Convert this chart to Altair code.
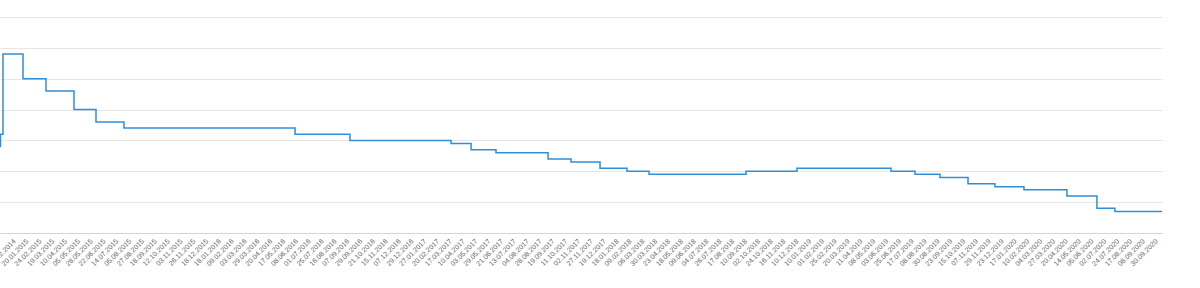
import altair as alt
import pandas as pd

# Tick labels (every 16th working day), left to right
labels = [
    "18.12.2014", "20.01.2015", "24.02.2015", "19.03.2015", "10.04.2015", "05.05.2015",
    "28.05.2015", "22.06.2015", "14.07.2015", "05.08.2015", "27.08.2015", "18.09.2015",
    "12.10.2015", "03.11.2015", "26.11.2015", "18.12.2015", "18.01.2016", "09.02.2016",
    "03.03.2016", "29.03.2016", "20.04.2016", "17.05.2016", "08.06.2016", "01.07.2016",
    "25.07.2016", "16.08.2016", "07.09.2016", "29.09.2016", "21.10.2016", "15.11.2016",
    "07.12.2016", "29.12.2016", "27.01.2017", "20.02.2017", "17.03.2017", "10.04.2017",
    "03.05.2017", "29.05.2017", "21.06.2017", "13.07.2017", "04.08.2017", "28.08.2017",
    "19.09.2017", "11.10.2017", "02.11.2017", "27.11.2017", "19.12.2017", "18.01.2018",
    "09.02.2018", "06.03.2018", "30.03.2018", "23.04.2018", "18.05.2018", "09.06.2018",
    "04.07.2018", "26.07.2018", "17.08.2018", "10.09.2018", "02.10.2018", "24.10.2018",
    "16.11.2018", "10.12.2018", "10.01.2019", "01.02.2019", "25.02.2019", "20.03.2019",
    "11.04.2019", "08.05.2019", "03.06.2019", "25.06.2019", "17.07.2019", "08.08.2019",
    "30.08.2019", "23.09.2019", "15.10.2019", "07.11.2019", "29.11.2019", "23.12.2019",
    "17.01.2020", "10.02.2020", "04.03.2020", "27.03.2020", "20.04.2020", "14.05.2020",
    "05.06.2020", "02.07.2020", "24.07.2020", "17.08.2020", "08.09.2020", "30.09.2020",
]

# Positions of rate changes, in tick-label units
change_pos = [-1.2, -0.857, -0.663, 0.896, 2.689, 4.871, 6.586, 8.768, 22.10, 26.38,
              34.26, 35.82, 37.76, 41.82, 43.61, 45.87, 47.97, 49.69, 57.25, 61.22,
              68.55, 70.42, 72.37, 74.55, 76.65, 78.91, 82.26, 84.60, 86.00, 89.70]
# Rate (%) from each change onward
rate = [9.5, 10.5, 17.0, 15.0, 14.0, 12.5, 11.5, 11.0, 10.5, 10.0,
        9.75, 9.25, 9.0, 8.5, 8.25, 7.75, 7.5, 7.25, 7.5, 7.75,
        7.5, 7.25, 7.0, 6.5, 6.25, 6.0, 5.5, 4.5, 4.25, 4.25]

df = pd.DataFrame({"pos": change_pos, "rate": rate})

label_expr = "[" + ",".join("'" + s + "'" for s in labels) + "][datum.value]"

x_domain = [-0.8963, 89.67]

chart = (
    alt.Chart(df)
    .mark_line(interpolate="step-after", color="#2f8fd8", strokeWidth=1.5, clip=True)
    .encode(
        x=alt.X(
            "pos:Q",
            scale=alt.Scale(domain=x_domain, nice=False, zero=False),
            axis=alt.Axis(
                values=list(range(len(labels))),
                labelExpr=label_expr,
                labelAngle=-45,
                labelAlign="right",
                labelBaseline="top",
                labelFontSize=7,
                labelFont="Liberation Sans",
                labelColor="#666666",
                labelPadding=4,
                labelOverlap=False,
                labelFlush=False,
                ticks=False,
                grid=False,
                domainColor="#ccd6eb",
                domainWidth=1,
                title=None,
            ),
        ),
        y=alt.Y(
            "rate:Q",
            scale=alt.Scale(domain=[2.5, 20], nice=False, zero=False),
            axis=alt.Axis(
                values=[2.5, 5, 7.5, 10, 12.5, 15, 17.5, 20],
                labels=False,
                ticks=False,
                domain=False,
                grid=True,
                gridColor="#e6e6e6",
                gridWidth=1,
                title=None,
            ),
        ),
    )
    .properties(
        width=1162,
        height=216,
        padding={"left": 0, "top": 17, "right": 38, "bottom": 55},
        autosize=alt.AutoSizeParams(type="none"),
    )
    .configure_view(stroke=None)
)

chart.save("out.html", embed_options={"renderer": "svg", "actions": False})
